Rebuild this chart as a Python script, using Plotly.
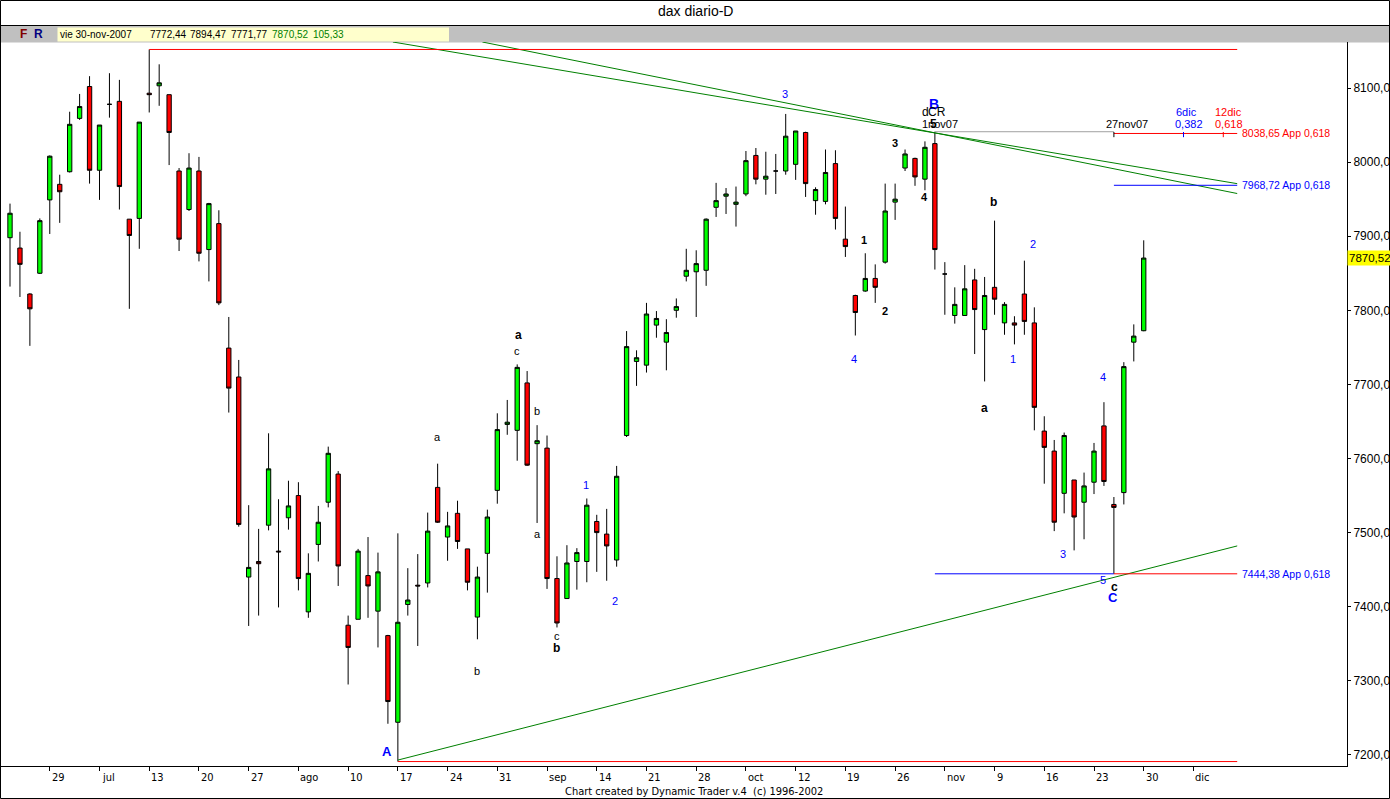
import numpy as np
import pandas as pd
import plotly.graph_objects as go

# ---------------- data ----------------
dates = [d.strftime("%Y-%m-%d") for d in pd.bdate_range("2007-06-25", "2007-11-30")]

opens = [7898,7884,7822,7850,7949, 7970,7987,8059,8102,7989, 8078,8082,7923,7924,8093,
         8103,8091,7988,7936,7988, 7882,7917,7749,7710,7440, 7461,7510,7475,7520,7550,
         7393,7484,7541,7579,7375, 7383,7442,7394,7361,7244, 7403,7429,7432,7561,7494,
         7526,7478,7386,7472,7557, 7646,7638,7702,7620,7614, 7438,7411,7461,7461,7515,
         7498,7463,7631,7731,7726, 7780,7757,7800,7846,7852, 7854,7939,7954,7943,7957,
         8009,7977,7988,7988,7997, 8040,7948,7947,7998,7896, 7820,7826,7843,7865,7946,
         7992,8005,7977,8025,7849, 7793,7793,7841,7774,7831, 7783,7783,7822,7783,7637,
         7610,7553,7571,7541,7568, 7644,7538,7554,7757,7772.44]
highs = [7944,7906,7823,7924,8009, 7983,8068,8092,8116,8050, 8120,8111,7923,8054,8152,
         8132,8091,7992,8012,8007, 7945,7935,7791,7733,7537, 7505,7634,7545,7570,7568,
         7472,7536,7616,7583,7388, 7478,7494,7473,7362,7499, 7452,7471,7527,7593,7528,
         7543,7478,7454,7531,7661, 7679,7727,7718,7645,7631, 7468,7483,7479,7546,7524,
         7532,7590,7772,7746,7810, 7799,7788,7816,7883,7881, 7924,7972,7965,7967,8015,
         8019,8014,8011,8065,8042, 8041,7966,8017,8016,7940, 7821,7877,7862,7971,7971,
         8017,8006,8028,8041,7865, 7831,7861,7856,7845,7921, 7811,7792,7867,7804,7657,
         7625,7635,7571,7581,7621, 7676,7548,7730,7781,7894.47]
lows = [7832,7818,7752,7849,7903, 7918,7986,8057,7971,7949, 8060,7936,7802,7883,8067,
        8076,7996,7880,7934,7866, 7839,7807,7662,7508,7374, 7388,7503,7399,7504,7422,
        7385,7461,7534,7428,7295, 7383,7385,7345,7242,7191, 7388,7347,7426,7513,7462,
        7478,7422,7356,7419,7539, 7632,7597,7590,7513,7424, 7372,7411,7423,7433,7447,
        7435,7454,7629,7698,7716, 7763,7719,7790,7839,7791, 7833,7926,7930,7913,7954,
        7970,7956,7957,7983,7976, 7953,7929,7943,7909,7872, 7766,7825,7810,7863,7922,
        7988,7968,7962,7855,7794, 7782,7793,7741,7704,7794, 7767,7754,7767,7638,7566,
        7502,7526,7476,7491,7552, 7563,7444.4,7538,7731,7771.77]
closes = [7931,7862,7802,7921,8008, 7960,8051,8075,7989,8050, 8078,7967,7901,8054,8091,
          8107,8040,7896,7992,7877, 7944,7810,7695,7511,7453, 7458,7586,7474,7536,7438,
          7445,7514,7607,7455,7345, 7475,7428,7447,7272,7379, 7409,7428,7502,7514,7509,
          7488,7433,7440,7521,7639, 7649,7723,7591,7624,7438, 7378,7459,7473,7537,7500,
          7482,7576,7751,7736,7795, 7789,7770,7805,7854,7863, 7923,7948,7957,7946,8002,
          7977,7981,7988,8035,8042, 7971,7963,7986,7924,7886, 7797,7843,7831,7934,7950,
          8011,7980,8020,7882,7849, 7808,7829,7801,7820,7815, 7808,7780,7785,7669,7615,
          7514,7631,7521,7563,7610, 7569,7534,7724,7765.19,7870.52]

tick_dates = ["2007-06-29","2007-07-06","2007-07-13","2007-07-20","2007-07-27","2007-08-03",
              "2007-08-10","2007-08-17","2007-08-24","2007-08-31","2007-09-07","2007-09-14",
              "2007-09-21","2007-09-28","2007-10-05","2007-10-12","2007-10-19","2007-10-26",
              "2007-11-02","2007-11-09","2007-11-16","2007-11-23","2007-11-30","2007-12-07"]
tick_labels = ["29","jul","13","20","27","ago","10","17","24","31","sep","14",
               "21","28","oct","12","19","26","nov","9","16","23","30","dic"]

y_ticks = [7200, 7300, 7400, 7500, 7600, 7700, 7800, 7900, 8000, 8100]

# projection levels / dates
proj_levels = [8038.65, 7968.72, 7444.38]
proj_ratios = ["0,382", "0,618"]
proj_dates = ["2007-11-27", "2007-12-06", "2007-12-12"]
b_date = "2007-11-01"
b_high = 8041

# ---------------- helpers ----------------
def fmt(v):
    return f"{v:.2f}".replace(".", ",")

def pos(d):
    return int(np.busday_count(dates[0], d))

xs = [pos(d) for d in dates]
tick_pos = [pos(d) for d in tick_dates]

W, H = 1390, 799
ML, MR, MT, MB = 0, 43, 42, 33
PW, PH = W - ML - MR, H - MT - MB

def px(X):
    return (X - ML) / PW

def py(Y):
    return 1 - (Y - MT) / PH

RIGHT = 123.4  # right end of drawn level lines (x units)
FONT = "Liberation Sans, Arial, sans-serif"
NARROW = "Liberation Sans Narrow, DejaVu Sans Condensed, Liberation Sans, Arial"
AXF = "Liberation Sans, Arial, sans-serif"

fig = go.Figure()

# ---- trend lines ----
i_hi = int(np.argmax(highs))
i_lo = int(np.argmin(lows))
for (xa, ya), (xb, yb) in [((38.5, 8162.1), (RIGHT, 7970.9)),
                           ((47.5, 8162.1), (RIGHT, 7957.6)),
                           ((xs[i_lo], lows[i_lo] + 2), (RIGHT, 7482))]:
    fig.add_trace(go.Scatter(x=[xa, xb], y=[ya, yb], mode="lines",
                             line=dict(color="#008000", width=1), hoverinfo="skip", showlegend=False))

# ---- horizontal lines ----
def hline(x0, x1, yv, color):
    fig.add_trace(go.Scatter(x=[x0, x1], y=[yv, yv], mode="lines",
                             line=dict(color=color, width=1), hoverinfo="skip", showlegend=False))

hline(xs[i_hi], RIGHT, highs[i_hi], "#ff0000")
hline(xs[i_lo], RIGHT, lows[i_lo], "#ff0000")
p27, p6, p12 = [pos(d) for d in proj_dates]
pb = pos(b_date)
hline(pb, p27, b_high, "#a0a0a0")
hline(p27, RIGHT, proj_levels[0], "#ff0000")
hline(p27, RIGHT, proj_levels[1], "#0000ff")
hline(pb, p27, proj_levels[2], "#0000ff")
hline(p27, RIGHT, proj_levels[2], "#ff0000")
for xv, c in [(p27, "black"), (p6, "#0000ff"), (p12, "#ff0000")]:
    fig.add_trace(go.Scatter(x=[xv, xv], y=[proj_levels[0] + 2, proj_levels[0] - 5], mode="lines",
                             line=dict(color=c, width=1), hoverinfo="skip", showlegend=False))

# ---- candles ----
fig.add_trace(go.Candlestick(
    x=xs, open=opens, high=highs, low=lows, close=closes,
    increasing=dict(fillcolor="#00ff00", line=dict(color="black", width=1)),
    decreasing=dict(fillcolor="#ff0000", line=dict(color="black", width=1)),
    whiskerwidth=0, hoverinfo="skip", showlegend=False))

ann = []

# wave labels: text, x, y, color, bold, size
waves = [
    ("3", 77.9, 8092, "#0000ff", False, 11),
    ("B", 92.9, 8079, "#0000ff", True, 14),
    ("d", 92.05, 8067, "black", False, 12),
    ("CR", 93.2, 8067, "black", False, 12),
    ("1nov07", 93.5, 8051, "black", False, 11),
    ("5", 92.9, 8051, "black", True, 12),
    ("3", 89.0, 8026, "black", True, 11),
    ("4", 92.0, 7953, "black", True, 11),
    ("b", 98.9, 7946, "black", True, 12),
    ("2", 102.9, 7889, "#0000ff", False, 11),
    ("1", 85.9, 7895, "black", True, 11),
    ("2", 88.0, 7799, "black", True, 11),
    ("4", 84.9, 7734, "#0000ff", False, 11),
    ("1", 100.9, 7734, "#0000ff", False, 11),
    ("a", 98.0, 7668, "black", True, 12),
    ("4", 109.9, 7710, "#0000ff", False, 11),
    ("3", 105.9, 7471, "#0000ff", False, 11),
    ("5", 109.9, 7436, "#0000ff", False, 11),
    ("c", 111.1, 7426, "black", True, 12),
    ("C", 110.9, 7412, "#0000ff", True, 13),
    ("a", 51.1, 7767, "black", True, 12),
    ("c", 51.0, 7745, "black", False, 11),
    ("b", 53.0, 7664, "black", False, 11),
    ("a", 43.0, 7629, "black", False, 11),
    ("a", 53.0, 7498, "black", False, 11),
    ("1", 57.9, 7564, "#0000ff", False, 11),
    ("2", 60.8, 7408, "#0000ff", False, 11),
    ("c", 55.0, 7360, "black", False, 11),
    ("b", 55.0, 7344, "black", True, 12),
    ("b", 47.0, 7313, "black", False, 11),
    ("A", 37.9, 7204, "#0000ff", True, 13),
]
for t, xv, yv, c, b, s in waves:
    ann.append(dict(x=xv, y=yv, xref="x", yref="y", text=f"<b>{t}</b>" if b else t,
                    xanchor="center", yanchor="middle",
                    showarrow=False, font=dict(family=FONT, size=s, color=c)))

# projection texts
proj_txt = [("27nov07", p27 - 1.0, 8051, "black"),
            ("6dic", p6 - 1.0, 8068, "#0000ff"),
            (proj_ratios[0], p6 - 1.05, 8051, "#0000ff"),
            ("12dic", p12 - 1.05, 8068, "#ff0000"),
            (proj_ratios[1], p12 - 1.05, 8051, "#ff0000")]
for t, xv, yv, c in proj_txt:
    ann.append(dict(x=xv, y=yv, xref="x", yref="y", text=t, xanchor="left", yanchor="middle",
                    showarrow=False, font=dict(family=FONT, size=11, color=c)))
for lv, c in zip(proj_levels, ["#ff0000", "#0000ff", "#0000ff"]):
    ann.append(dict(x=RIGHT + 0.25, y=lv, xref="x", yref="y", text=f"{fmt(lv)} App {proj_ratios[1]}",
                    xanchor="left", yanchor="middle", showarrow=False,
                    font=dict(family=FONT, size=10.5, color=c)))

# last price on axis
ann.append(dict(x=1.0, y=closes[-1], xref="paper", yref="y", text=fmt(closes[-1]), xanchor="left",
                yanchor="middle", xshift=0, showarrow=False, bgcolor="#ffff00", borderpad=1,
                font=dict(family=AXF, size=11.5, color="black")))

# x tick labels (left aligned at tick)
for tp, tl in zip(tick_pos, tick_labels):
    ann.append(dict(x=tp, y=0, xref="x", yref="paper", text=tl, xanchor="left", yanchor="top",
                    yshift=-3, showarrow=False,
                    font=dict(family=NARROW, size=11, color="black")))

# title, header, footer
ann.append(dict(x=px(695), y=py(11), xref="paper", yref="paper", text="dax diario-D",
                xanchor="center", yanchor="middle",
                showarrow=False, font=dict(family=FONT, size=14, color="black")))
ann.append(dict(x=px(23), y=py(34.5), xref="paper", yref="paper", text="<b>F</b>",
                xanchor="center", yanchor="middle",
                showarrow=False, font=dict(family=FONT, size=12, color="#800000")))
ann.append(dict(x=px(38), y=py(34.5), xref="paper", yref="paper", text="<b>R</b>",
                xanchor="center", yanchor="middle",
                showarrow=False, font=dict(family=FONT, size=12, color="#000080")))
head = [("vie 30-nov-2007", 58, "black"), (fmt(opens[-1]), 148, "black"),
        (fmt(highs[-1]), 188, "black"), (fmt(lows[-1]), 228.5, "black"),
        (fmt(closes[-1]), 270, "#008000"), (fmt(closes[-1] - closes[-2]), 310.5, "#008000")]
for t, X, c in head:
    ann.append(dict(x=px(X), y=py(34.5), xref="paper", yref="paper", text=t, xanchor="left",
                    yanchor="middle", showarrow=False, font=dict(family=FONT, size=10, color=c)))
ann.append(dict(x=px(694), y=py(791.5), xref="paper", yref="paper",
                text="Chart created by Dynamic Trader v.4  (c) 1996-2002",
                xanchor="center", yanchor="middle",
                showarrow=False, font=dict(family=NARROW, size=11, color="black")))

shapes = [
    dict(type="rect", xref="paper", yref="paper", x0=px(-2), x1=px(1392), y0=py(42.5), y1=py(26),
         fillcolor="#c0c0c0", line=dict(width=0), layer="below"),
    dict(type="rect", xref="paper", yref="paper", x0=px(57.5), x1=px(449), y0=py(41.5), y1=py(27.5),
         fillcolor="#ffffcc", line=dict(width=0), layer="below"),
    dict(type="line", xref="paper", yref="paper", x0=px(0), x1=px(1390), y0=py(25.5), y1=py(25.5),
         line=dict(color="black", width=1)),
    dict(type="rect", xref="paper", yref="paper", x0=px(0.5), x1=px(1389.5), y0=py(798.5), y1=py(0.5),
         line=dict(color="black", width=1), fillcolor="rgba(0,0,0,0)"),
]

fig.update_layout(
    width=W, height=H,
    margin=dict(l=ML, r=MR, t=MT, b=MB, autoexpand=False),
    paper_bgcolor="white", plot_bgcolor="white",
    showlegend=False, hovermode=False,
    boxgap=0.38, boxgroupgap=0.3,
    annotations=ann, shapes=shapes,
    xaxis=dict(range=[(0 - 10) / 9.945, (PW - 10) / 9.945], showgrid=False, zeroline=False,
               showline=True, linecolor="black", linewidth=1,
               tickvals=tick_pos, ticks="outside", ticklen=4, tickcolor="black",
               showticklabels=False, rangeslider=dict(visible=False), fixedrange=True),
    yaxis=dict(range=[7185.0, 8162.1], side="right", showgrid=False, zeroline=False,
               showline=True, linecolor="black", linewidth=1,
               tickvals=y_ticks, ticktext=[fmt(v) for v in y_ticks],
               ticks="outside", ticklen=3, tickcolor="black", automargin=False,
               ticklabelstandoff=0,
               tickfont=dict(family=AXF, size=12, color="black"),
               fixedrange=True),
)

fig.write_html("out.html", config={"displayModeBar": False, "staticPlot": True},
               post_script="document.body.style.margin='0';document.body.style.overflow='hidden';")
